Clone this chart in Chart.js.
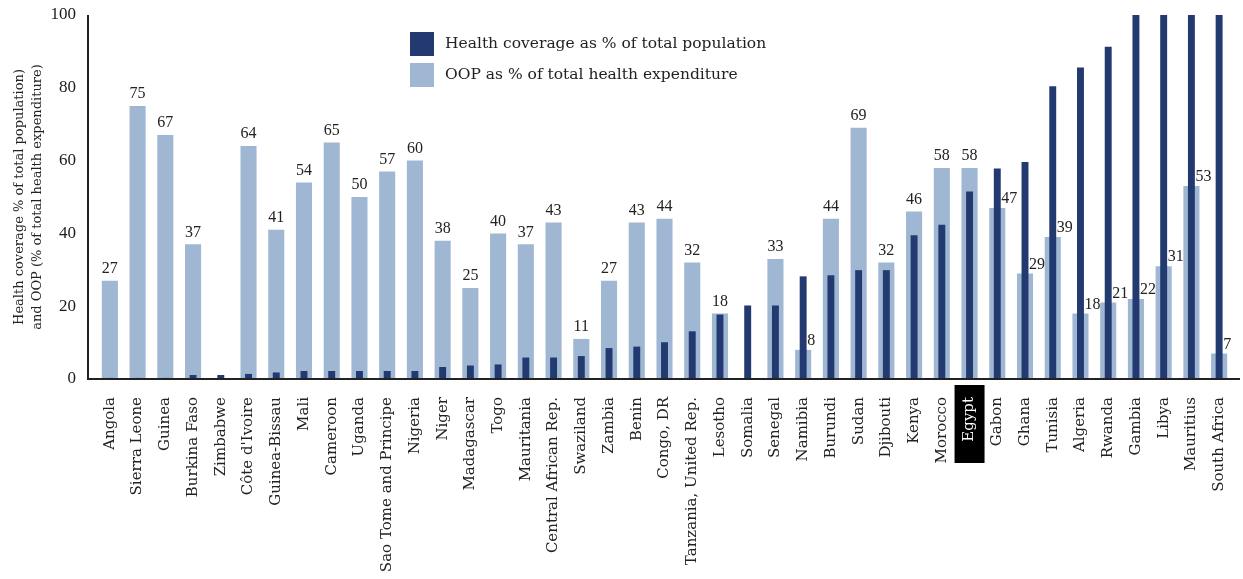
<!DOCTYPE html>
<html>
<head>
<meta charset="utf-8">
<script src="https://cdn.jsdelivr.net/npm/chart.js@4.4.1/dist/chart.umd.min.js"></script>
<style>
  html, body { margin: 0; padding: 0; background: #fff; }
  #wrap { width: 1243px; height: 579px; position: relative; }
</style>
</head>
<body>
<div id="wrap"><canvas id="chart"></canvas></div>
<script>
const countries = [
  'Angola', 'Sierra Leone', 'Guinea', 'Burkina Faso', 'Zimbabwe', 'Côte d\'Ivoire',
  'Guinea-Bissau', 'Mali', 'Cameroon', 'Uganda', 'Sao Tome and Principe', 'Nigeria',
  'Niger', 'Madagascar', 'Togo', 'Mauritania', 'Central African Rep.', 'Swaziland',
  'Zambia', 'Benin', 'Congo, DR', 'Tanzania, United Rep.', 'Lesotho', 'Somalia',
  'Senegal', 'Namibia', 'Burundi', 'Sudan', 'Djibouti', 'Kenya', 'Morocco', 'Egypt',
  'Gabon', 'Ghana', 'Tunisia', 'Algeria', 'Rwanda', 'Gambia', 'Libya', 'Mauritius',
  'South Africa',
];

// health coverage as % of total population
const coverage = [
  0.3, 0.3, 0.3, 1.1, 1.1, 1.4, 1.8, 2.2, 2.2, 2.2, 2.2, 2.2,
  3.3, 3.7, 4.0, 5.9, 5.9, 6.3, 8.5, 8.9, 10.1, 13.1, 17.7, 20.2,
  20.2, 28.2, 28.5, 29.9, 29.9, 39.5, 42.4, 51.5, 57.8, 59.6, 80.4, 85.6,
  91.3, 100, 100, 100, 100,
];

// OOP as % of total health expenditure
const oop = [
  27, 75, 67, 37, null, 64, 41, 54, 65, 50, 57, 60,
  38, 25, 40, 37, 43, 11, 27, 43, 44, 32, 18, null,
  33, 8, 44, 69, 32, 46, 58, 58, 47, 29, 39, 18,
  21, 22, 31, 53, 7,
];

const yTicks = [0, 20, 40, 60, 80, 100];
const highlight = 'Egypt';

const darkBlue = '#233a70';
const lightBlue = '#a0b7d3';
const serif = "'Liberation Serif', serif";
const wideSerif = "'DejaVu Serif', serif";

// black box behind the highlighted country name
const highlightBox = {
  id: 'highlightBox',
  beforeDraw(chart) {
    const x = chart.scales.x.getPixelForTick(countries.indexOf(highlight));
    const ctx = chart.ctx;
    ctx.save();
    ctx.fillStyle = '#000';
    ctx.fillRect(x - 15, 385, 30, 78);
    ctx.restore();
  },
};

// value labels over the OOP bars, axis lines and the in-plot legend
const extras = {
  id: 'extras',
  afterDatasetsDraw(chart) {
    const ctx = chart.ctx;
    const meta = chart.getDatasetMeta(1);
    ctx.save();
    ctx.fillStyle = '#222';
    ctx.font = '16px ' + serif;
    ctx.textBaseline = 'bottom';
    meta.data.forEach((bar, i) => {
      const v = oop[i];
      if (v === null) return;
      if (coverage[i] > v) {
        ctx.textAlign = 'left';
        ctx.fillText(String(v), bar.x + bar.width / 2 - 4, bar.y - 1);
      } else {
        ctx.textAlign = 'center';
        ctx.fillText(String(v), bar.x, bar.y - 4);
      }
    });

    const area = chart.chartArea;
    const axisX = area.left - 8;
    ctx.strokeStyle = '#222';
    ctx.lineWidth = 2;
    ctx.beginPath();
    ctx.moveTo(axisX, area.top);
    ctx.lineTo(axisX, area.bottom);
    ctx.lineTo(area.right + 7, area.bottom);
    ctx.stroke();

    const items = [
      [darkBlue, 'Health coverage as % of total population'],
      [lightBlue, 'OOP as % of total health expenditure'],
    ];
    ctx.font = '15.5px ' + wideSerif;
    ctx.textAlign = 'left';
    ctx.textBaseline = 'middle';
    items.forEach(([color, text], i) => {
      const y = 32 + i * 31;
      ctx.fillStyle = color;
      ctx.fillRect(410, y, 24, 24);
      ctx.fillStyle = '#222';
      ctx.fillText(text, 445, y + 12);
    });
    ctx.restore();
  },
};

new Chart(document.getElementById('chart'), {
  type: 'bar',
  data: {
    labels: countries,
    datasets: [
      {
        label: 'Health coverage as % of total population',
        data: coverage,
        backgroundColor: darkBlue,
        grouped: false,
        categoryPercentage: 1,
        barPercentage: 0.25,
      },
      {
        label: 'OOP as % of total health expenditure',
        data: oop,
        backgroundColor: lightBlue,
        grouped: false,
        categoryPercentage: 1,
        barPercentage: 0.58,
      },
    ],
  },
  options: {
    responsive: true,
    maintainAspectRatio: false,
    animation: false,
    layout: { padding: { top: 15, right: 10 } },
    plugins: {
      legend: { display: false },
      tooltip: { enabled: false },
    },
    scales: {
      x: {
        grid: { display: false },
        border: { display: false },
        afterFit: (scale) => {
          scale.height = 200;
          scale.paddingLeft = 0;
          scale.paddingRight = 0;
        },
        ticks: {
          autoSkip: false,
          maxRotation: 90,
          minRotation: 90,
          padding: 10,
          font: { family: wideSerif, size: 15 },
          color: (c) => (countries[c.index] === highlight ? '#fff' : '#222'),
        },
      },
      y: {
        min: 0,
        max: 100,
        grid: { display: false },
        border: { display: false },
        afterFit: (scale) => {
          scale.width = 96;
          scale.paddingTop = 0;
          scale.paddingBottom = 0;
        },
        afterBuildTicks: (scale) => { scale.ticks = yTicks.map((v) => ({ value: v })); },
        ticks: {
          padding: 12,
          color: '#1a1a1a',
          font: { family: serif, size: 17 },
        },
        title: {
          display: true,
          text: ['Health coverage % of total population)', 'and OOP (% of total health expenditure)'],
          color: '#222',
          padding: { top: 11, bottom: 0 },
          font: { family: wideSerif, size: 13, lineHeight: 1.35 },
        },
      },
    },
  },
  plugins: [highlightBox, extras],
});
</script>
</body>
</html>
